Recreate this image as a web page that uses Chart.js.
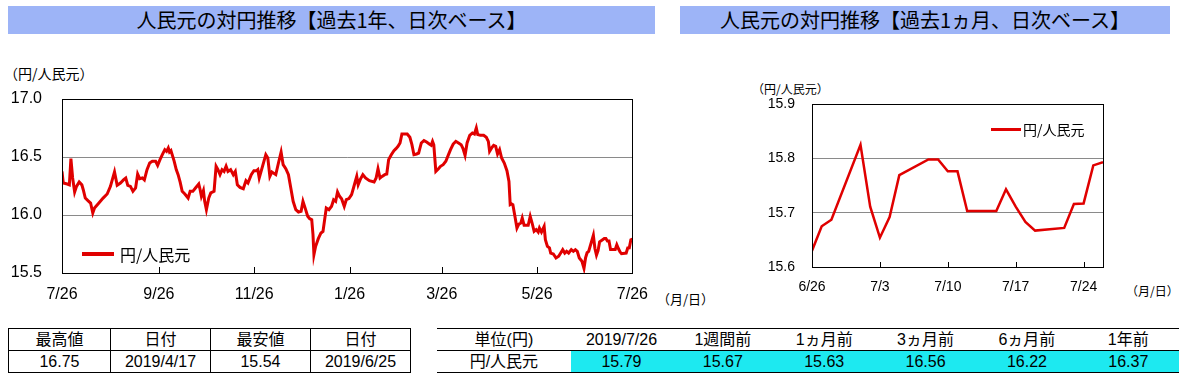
<!DOCTYPE html>
<html lang="ja">
<head>
<meta charset="utf-8">
<script src="https://cdn.jsdelivr.net/npm/chart.js@4.4.1/dist/chart.umd.min.js"></script>
<style>
  body { margin: 0; width: 1179px; height: 379px; background: #fff; position: relative; overflow: hidden;
         font-family: "Noto Sans CJK JP", sans-serif; color: #000; }
  .bar { position: absolute; background: #9db4f7; text-align: center; font-size: 20px; line-height: 28px; }
  .lbl { position: absolute; white-space: nowrap; }
  .wrap { position: absolute; }
  .legend { position: absolute; display: flex; align-items: center; white-space: nowrap; }
  .legend i { display: inline-block; background: #e00000; margin-right: 6px; }
  table { position: absolute; border-collapse: collapse; font-family: "Liberation Sans", "Noto Sans CJK JP", sans-serif; }
  td { padding: 0; text-align: center; height: 21px; line-height: 21px; font-size: 16px; }
  #statTable td { border: 1px solid #000; }
  #cmpTable tr:first-child td { border-top: 1px solid #000; border-bottom: 1px solid #000; }
  #cmpTable tr:last-child td { border-bottom: 1px solid #000; }
  #cmpTable td.c { background: #1de9f0; }
</style>
</head>
<body>

<div class="bar" style="left:8px; top:6px; width:647px; height:28px;">人民元の対円推移【過去1年、日次ベース】</div>
<div class="bar" style="left:680px; top:6px; width:490px; height:28px;">人民元の対円推移【過去1ヵ月、日次ベース】</div>

<div class="lbl" style="left:4px; top:63px; font-size:14px;">（円/人民元）</div>
<div class="lbl" style="left:657px; top:289px; font-size:13px;">（月/日）</div>
<div class="lbl" style="left:752px; top:80px; font-size:12px;">（円/人民元）</div>
<div class="lbl" style="left:1126px; top:282px; font-size:12px;">（月/日）</div>

<div class="wrap" style="left:0; top:45px; width:660px; height:265px;"><canvas id="yearChart"></canvas></div>
<div class="wrap" style="left:680px; top:50px; width:499px; height:260px;"><canvas id="monthChart"></canvas></div>

<div class="legend" style="left:82px; top:242px; font-size:16px;"><i style="width:32px; height:4px"></i>円/人民元</div>
<div class="legend" style="left:991px; top:119px; font-size:14px;"><i style="width:30px; height:3px; margin-right:2px"></i>円/人民元</div>

<table id="statTable" style="left:8px; top:328px; width:403px;">
  <tr><td style="width:101px">最高値</td><td style="width:99px">日付</td><td style="width:99px">最安値</td><td>日付</td></tr>
  <tr><td id="hiV"></td><td id="hiD"></td><td id="loV"></td><td id="loD"></td></tr>
</table>

<table id="cmpTable" style="left:437px; top:328px; width:742px;">
  <tr id="cmpHead"><td style="width:132px">単位(円)</td></tr>
  <tr id="cmpRow"><td>円/人民元</td></tr>
</table>

<script>
// ---- 過去1年 (2018/7/26 からの日数, 値) ----
const yearDays = [0, 0.8, 3.4, 4.7, 5.7, 6.8, 8.1, 9.3, 11.0, 12.7, 13.6, 14.9, 16.6, 18.3, 19.7, 20.8, 23.6, 26.3, 28.9, 31.0,
  33.6, 35.3, 37.4, 39.5, 40.8, 42.1, 43.8, 45.4, 47.1, 48.4, 49.7, 51.4, 52.7, 54.4, 56.1, 57.8, 59.9, 61.2,
  62.7, 64.2, 65.8, 66.9, 68.0, 68.8, 69.7, 70.5, 71.8, 73.1, 74.3, 75.6, 76.9, 78.6, 80.7, 82.0, 83.7, 85.4,
  87.5, 88.4, 89.2, 90.5, 91.3, 92.4, 93.9, 95.2, 97.3, 98.6, 99.8, 101.1, 102.4, 103.7, 105.0, 106.2, 107.9,
  109.6, 110.9, 112.2, 113.9, 116.0, 117.7, 119.0, 121.1, 122.8, 124.5,
  125.3, 126.2, 128.3, 130.4, 131.7, 133.0, 134.3, 136.8, 138.5, 140.2, 141.5, 143.2, 144.9, 146.4, 147.9,
  149.6, 151.3, 153.0, 154.2, 155.9, 157.2, 158.5, 159.8, 160.6, 161.2, 162.3, 164.0, 165.7, 167.0, 169.1,
  170.8, 172.5, 173.8, 175.1, 176.3, 177.6, 178.9, 180.6, 181.9, 183.6, 185.3,
  187.4, 188.6, 189.5, 190.8, 192.5, 194.2, 196.7, 199.7, 201.0, 202.2, 203.5, 204.8, 206.5, 207.8, 209.0,
  210.7, 212.4, 213.7, 215.0, 216.3, 217.5, 219.2, 220.9, 222.6, 223.9, 225.2, 226.9, 228.2, 229.9, 231.6,
  233.3, 235.0, 236.2, 237.1, 237.9, 239.2, 240.9, 242.2, 243.9, 245.6, 247.3,
  248.6, 250.3, 252.0, 253.7, 255.4, 256.6, 257.9, 259.2, 260.9, 262.6, 263.9, 265.1, 266.0, 267.7, 269.8,
  271.5, 272.8, 273.6, 274.9, 276.2, 277.5, 278.7, 280.0, 281.3, 283.0, 284.7, 286.0, 286.8, 287.7, 288.5,
  289.8, 291.1, 292.3, 293.6, 294.5, 295.7, 297.0, 298.3, 299.6, 300.8, 302.1, 303.4, 304.7, 305.5, 306.8,
  308.5, 309.3, 310.6, 311.9,
  312.7, 314.4, 316.1, 317.8, 319.1, 320.4, 321.7, 322.9, 324.2, 325.9, 327.2, 328.5, 329.7, 331.0, 332.7, 334.0];
const yearValues = [16.376, 16.276, 16.267, 16.26, 16.486, 16.319, 16.198, 16.247, 16.284, 16.26, 16.218, 16.146, 16.124, 16.103, 16.017, 16.06, 16.103, 16.146, 16.181, 16.247,
  16.371, 16.256, 16.276, 16.305, 16.319, 16.256, 16.247, 16.204, 16.233, 16.353, 16.313, 16.319, 16.302, 16.391, 16.448, 16.463, 16.463, 16.428,
  16.477, 16.52, 16.563, 16.549, 16.578, 16.543, 16.555, 16.52, 16.463, 16.391, 16.348, 16.284, 16.204, 16.181, 16.146, 16.204, 16.204, 16.233,
  16.267, 16.218, 16.161, 16.21, 16.118, 16.046, 16.146, 16.19, 16.204, 16.42, 16.391, 16.348, 16.391, 16.376, 16.42, 16.376, 16.391,
  16.348, 16.376, 16.261, 16.238, 16.227, 16.296, 16.276, 16.348, 16.382, 16.382,
  16.391, 16.319, 16.42, 16.52, 16.491, 16.333, 16.371, 16.348, 16.448, 16.543, 16.434, 16.399, 16.348, 16.233, 16.118,
  16.046, 16.026, 16.032, 16.118, 16.046, 15.989, 15.968, 15.96, 15.83, 15.658, 15.73, 15.796, 15.845, 15.859, 16.06,
  16.046, 16.075, 16.132, 16.118, 16.198, 16.161, 16.141, 16.075, 16.132, 16.141, 16.175,
  16.276, 16.333, 16.261, 16.305, 16.348, 16.319, 16.296, 16.284, 16.319, 16.399, 16.319, 16.333, 16.348, 16.353, 16.477,
  16.52, 16.555, 16.572, 16.592, 16.621, 16.698, 16.698, 16.698, 16.67, 16.606, 16.52, 16.526, 16.534, 16.621, 16.641,
  16.629, 16.612, 16.601, 16.635, 16.606, 16.376, 16.399, 16.42, 16.434, 16.463, 16.52,
  16.563, 16.612, 16.635, 16.621, 16.606, 16.572, 16.514, 16.621, 16.687, 16.707, 16.698, 16.75, 16.693, 16.687, 16.687,
  16.67, 16.635, 16.549, 16.578, 16.601, 16.592, 16.526, 16.563, 16.491, 16.448, 16.382, 16.29, 16.089, 16.095, 16.089,
  15.989, 15.888, 15.922, 15.931, 15.974, 15.911, 15.911, 15.911, 15.989, 15.931, 15.859, 15.874, 15.853, 15.888, 15.853,
  15.902, 15.787, 15.73, 15.716,
  15.672, 15.664, 15.629, 15.644, 15.672, 15.701, 15.672, 15.687, 15.672, 15.701, 15.687, 15.701, 15.687, 15.629, 15.601, 15.54];
const yearTickDays = [0, 62, 123, 184, 243, 304, 365];
const yearTickLabels = ["7/26", "9/26", "11/26", "1/26", "3/26", "5/26", "7/26"];

// ---- 過去1ヵ月 (2019/6/26 からの日数, 値) ----
const monthDays = [0, 1, 2, 5, 6, 7, 8, 9, 12, 13, 14, 15, 16, 19, 20, 21, 22, 23, 26, 27, 28, 29, 30];
const monthValues = [15.63, 15.675, 15.687, 15.825, 15.711, 15.654, 15.692, 15.769, 15.798, 15.798, 15.776, 15.776, 15.703,
  15.703, 15.743, 15.711, 15.683, 15.667, 15.672, 15.716, 15.717, 15.787, 15.793];
const monthTickDays = [0, 7, 14, 21, 28];
const monthTickLabels = ["6/26", "7/3", "7/10", "7/17", "7/24"];
const monthOffset = 335; // 6/26 は 2018/7/26 から335日

// ---- 表 ----
const statHeaders = ["最高値", "日付", "最安値", "日付"];
const statValues = ["16.75", "2019/4/17", "15.54", "2019/6/25"];
const cmpHeaders = ["2019/7/26", "1週間前", "1ヵ月前", "3ヵ月前", "6ヵ月前", "1年前"];
const cmpValues = ["15.79", "15.67", "15.63", "16.56", "16.22", "16.37"];

const LINE = "#e00000";

document.getElementById("hiV").textContent = statValues[0];
document.getElementById("hiD").textContent = statValues[1];
document.getElementById("loV").textContent = statValues[2];
document.getElementById("loD").textContent = statValues[3];
cmpHeaders.forEach(h => {
  const td = document.createElement("td");
  td.textContent = h;
  td.style.width = "100px";
  document.getElementById("cmpHead").appendChild(td);
});
cmpValues.forEach(v => {
  const td = document.createElement("td");
  td.textContent = v;
  td.className = "c";
  document.getElementById("cmpRow").appendChild(td);
});

Chart.defaults.font.family = "'Liberation Sans', Arial, sans-serif";
Chart.defaults.color = "#000";
Chart.defaults.animation = false;

// 枠線と内向きの目盛り
const framePlugin = {
  id: "frame",
  afterDraw(chart, args, opts) {
    const { ctx, chartArea: a, scales } = chart;
    ctx.save();
    ctx.strokeStyle = "#000";
    ctx.lineWidth = 1;
    ctx.strokeRect(Math.round(a.left) + 0.5, Math.round(a.top) + 0.5, Math.round(a.right - a.left), Math.round(a.bottom - a.top));
    ctx.beginPath();
    scales.x.ticks.forEach(t => {
      const x = Math.round(scales.x.getPixelForValue(t.value)) + 0.5;
      ctx.moveTo(x, a.bottom);
      ctx.lineTo(x, a.bottom - opts.len);
    });
    ctx.stroke();
    ctx.restore();
  }
};

function makeChart(id, pts, cfg) {
  return new Chart(document.getElementById(id), {
    type: "line",
    data: {
      datasets: [{
        label: "円/人民元",
        data: pts,
        borderColor: LINE,
        borderWidth: cfg.lw,
        pointRadius: 0,
        tension: 0
      }]
    },
    options: {
      responsive: true,
      maintainAspectRatio: false,
      layout: { padding: cfg.pad },
      plugins: { legend: { display: false }, tooltip: { enabled: false }, frame: { len: cfg.tickLen } },
      scales: {
        x: {
          type: "linear",
          min: cfg.xMin,
          max: cfg.xMax,
          afterBuildTicks: s => { s.ticks = cfg.tickDays.map(v => ({ value: v })); },
          afterFit: s => { s.height = cfg.xh; },
          ticks: {
            autoSkip: false, maxRotation: 0, padding: cfg.xpad,
            font: { size: cfg.fs },
            callback: (v, i) => cfg.tickLabels[i]
          },
          grid: { display: false, drawTicks: false },
          border: { display: false }
        },
        y: {
          min: cfg.yMin,
          max: cfg.yMax,
          afterFit: s => { s.width = cfg.yw; },
          ticks: { stepSize: cfg.step, padding: cfg.ypad, font: { size: cfg.fs }, callback: v => v.toFixed(1) },
          grid: { color: "#8a8a8a", lineWidth: 1, drawTicks: false },
          border: { display: false }
        }
      }
    },
    plugins: [framePlugin]
  });
}

makeChart("yearChart",
  yearDays.map((d, i) => ({ x: d, y: yearValues[i] }))
    .concat(monthDays.map((d, i) => ({ x: d + monthOffset, y: monthValues[i] }))),
  { lw: 3, pad: { top: 54, right: 25, left: 0, bottom: 0 }, xMin: 0, xMax: 365, tickDays: yearTickDays,
    tickLabels: yearTickLabels, xh: 37, xpad: 12, fs: 16, yMin: 15.5, yMax: 17.0, step: 0.5, yw: 62, ypad: 20, tickLen: 6 });

makeChart("monthChart",
  monthDays.map((d, i) => ({ x: d, y: monthValues[i] })),
  { lw: 2.5, pad: { top: 54, right: 76, left: 0, bottom: 0 }, xMin: 0, xMax: 30, tickDays: monthTickDays,
    tickLabels: monthTickLabels, xh: 43, xpad: 12, fs: 14, yMin: 15.6, yMax: 15.9, step: 0.1, yw: 132, ypad: 17, tickLen: 5 });
</script>
</body>
</html>
